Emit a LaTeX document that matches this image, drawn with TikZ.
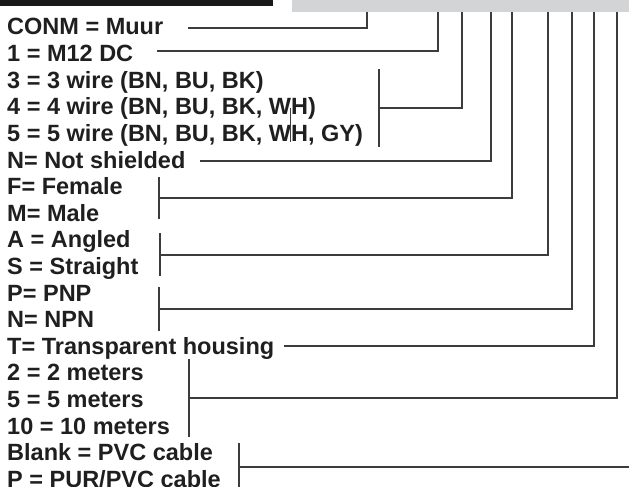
\documentclass[tikz,border=0pt]{standalone}
\usepackage{fontspec}
\setmainfont{Liberation Sans}
\definecolor{bargray}{RGB}{211,212,214}
\definecolor{linec}{RGB}{60,60,60}
\begin{document}
\begin{tikzpicture}[x=1pt,y=-1pt,
  lbl/.style={anchor=base west, inner sep=0pt, font=\fontsize{23.5}{28}\selectfont\bfseries, text=black!88},
  conn/.style={draw=linec, line width=1.2pt},
  bracket/.style={draw=linec, line width=1.2pt}]
\useasboundingbox (0,0) rectangle (629,487);
% top bars
\fill[black!90] (0,0) rectangle (273,6);
\fill[bargray] (292,0) rectangle (629,12);
% labels
\node[lbl] (l0)  at (7,35.0)  {CONM = Muur};
\node[lbl] (l1)  at (7,61.6)  {1 = M12 DC};
\node[lbl] (l2)  at (7,88.2)  {3 = 3 wire (BN, BU, BK)};
\node[lbl] (l3)  at (7,114.8) {4 = 4 wire (BN, BU, BK, WH)};
\node[lbl] (l4)  at (7,141.4) {5 = 5 wire (BN, BU, BK, WH, GY)};
\node[lbl] (l5)  at (7,168.0) {N= Not shielded};
\node[lbl] (l6)  at (7,194.6) {F= Female};
\node[lbl] (l7)  at (7,221.2) {M= Male};
\node[lbl] (l8)  at (7,247.8) {A = Angled};
\node[lbl] (l9)  at (7,274.4) {S = Straight};
\node[lbl] (l10) at (7,301.0) {P= PNP};
\node[lbl] (l11) at (7,327.6) {N= NPN};
\node[lbl] (l12) at (7,354.2) {T= Transparent housing};
\node[lbl] (l13) at (7,380.8) {2 = 2 meters};
\node[lbl] (l14) at (7,407.4) {5 = 5 meters};
\node[lbl] (l15) at (7,434.0) {10 = 10 meters};
\node[lbl] (l16) at (7,460.6) {Blank = PVC cable};
\node[lbl] (l17) at (7,487.2) {P = PUR/PVC cable};
% connector ends at the bar
\coordinate (t1) at (367,12);
\coordinate (t2) at (438,12);
\coordinate (t3) at (462,12);
\coordinate (t4) at (491,12);
\coordinate (t5) at (512,12);
\coordinate (t6) at (548,12);
\coordinate (t7) at (572,12);
\coordinate (t8) at (594,12);
\coordinate (t9) at (617,12);
% starts
\coordinate (s1) at (188,28);
\coordinate (s2) at (157,51);
\coordinate (s4) at (200,161);
\coordinate (s8) at (284,346);
% brackets
\coordinate (b3a) at (379,69);  \coordinate (b3b) at (379,147); \coordinate (b3m) at (379,108);
\coordinate (b5a) at (159,177); \coordinate (b5b) at (159,219); \coordinate (b5m) at (159,198);
\coordinate (b6a) at (160,233); \coordinate (b6b) at (160,276); \coordinate (b6m) at (160,255);
\coordinate (b7a) at (159,287); \coordinate (b7b) at (159,331); \coordinate (b7m) at (159,309);
\coordinate (b9a) at (189,359); \coordinate (b9b) at (189,437); \coordinate (b9m) at (189,398);
\coordinate (b10a) at (239,443); \coordinate (b10b) at (239,490); \coordinate (b10m) at (239,467);
\coordinate (e10) at (629,467);
% stray mark through WH
\coordinate (w1) at (290.7,108); \coordinate (w2) at (290.7,142);
\draw[conn, line width=0.9pt] (w1) -- (w2);
% connectors
\draw[conn] (s1) -| (t1);
\draw[conn] (s2) -| (t2);
\draw[bracket] (b3a) -- (b3b);
\draw[conn] (b3m) -| (t3);
\draw[conn] (s4) -| (t4);
\draw[bracket] (b5a) -- (b5b);
\draw[conn] (b5m) -| (t5);
\draw[bracket] (b6a) -- (b6b);
\draw[conn] (b6m) -| (t6);
\draw[bracket] (b7a) -- (b7b);
\draw[conn] (b7m) -| (t7);
\draw[conn] (s8) -| (t8);
\draw[bracket] (b9a) -- (b9b);
\draw[conn] (b9m) -| (t9);
\draw[bracket] (b10a) -- (b10b);
\draw[conn] (b10m) -- (e10);
\end{tikzpicture}
\end{document}
